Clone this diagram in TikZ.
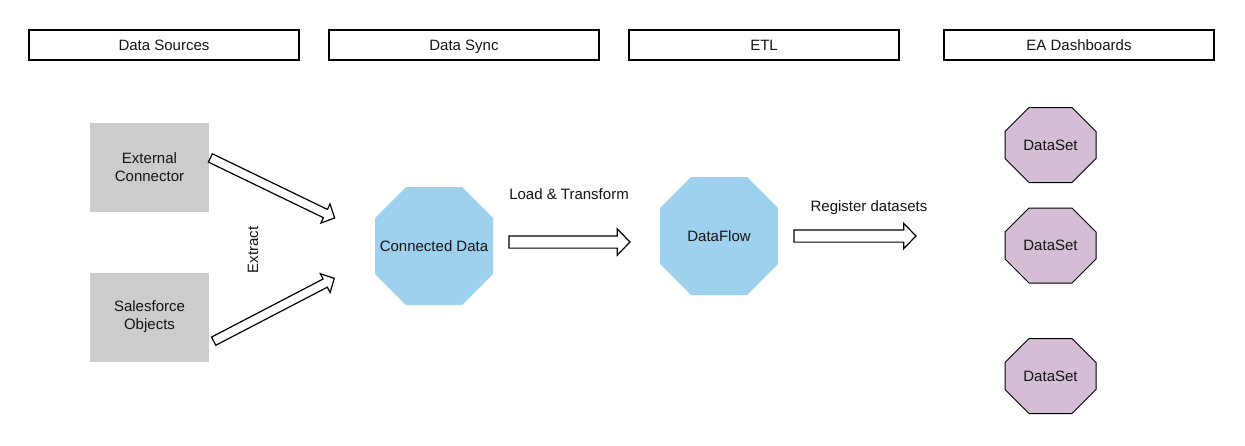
\documentclass[tikz,border=0pt]{standalone}
\usepackage{fontspec}
\setmainfont{Liberation Sans}
\usetikzlibrary{shapes.arrows}
\definecolor{hdrline}{RGB}{0,0,0}
\definecolor{grayfill}{RGB}{204,204,204}
\definecolor{bluefill}{RGB}{158,209,238}
\definecolor{lilac}{RGB}{213,190,213}
\definecolor{txt}{RGB}{20,20,20}
\newcommand{\octo}[8]{%
  \path[#7] ({#2-#4+#6},{#3-#5}) -- ({#2+#4-#6},{#3-#5}) -- ({#2+#4},{#3-#5+#6})
    -- ({#2+#4},{#3+#5-#6}) -- ({#2+#4-#6},{#3+#5}) -- ({#2-#4+#6},{#3+#5})
    -- ({#2-#4},{#3+#5-#6}) -- ({#2-#4},{#3-#5+#6}) -- cycle;
  \node[lbl, minimum width={2*#4}, minimum height={2*#5}, inner sep=0pt] (#1) at (#2,#3) {#8};
}
\begin{document}
\begin{tikzpicture}[x=1pt,y=-1pt,
  every node/.style={font=\fontsize{15}{18}\selectfont, text=txt},
  lbl/.style={text height=12pt, text depth=2pt},
  header/.style={lbl, draw=hdrline, line width=1.3pt, minimum width=270pt, minimum height=30pt, inner sep=0pt},
  srcbox/.style={fill=grayfill, minimum width=119pt, minimum height=89pt, inner sep=0pt, align=center},
  blueoct/.style={fill=bluefill},
  lilacoct/.style={fill=lilac, draw=black, line width=1pt},
  bigarrow/.style={single arrow, draw=black, fill=white, line width=1.2pt, inner xsep=0pt, inner ysep=5.5pt,
     single arrow head extend=7pt, single arrow tip angle=92},
  slimarrow/.style={single arrow, draw=black, fill=white, line width=1.2pt, inner xsep=0pt, inner ysep=4pt,
     single arrow head extend=6pt, single arrow tip angle=92},
]
\path[use as bounding box, fill=white] (0,0) rectangle (1245,445);

% headers
\node[header] (h1) at (164,45) {Data Sources};
\node[header] (h2) at (464,45) {Data Sync};
\node[header] (h3) at (764,45) {ETL};
\node[header] (h4) at (1079,45) {EA Dashboards};

% sources
\node[srcbox] (ext) at (149.5,167) {External\\Connector};
\node[srcbox] (sfo) at (149.5,317) {Salesforce\\Objects};

% octagons
\octo{cd}{434}{246}{59}{59}{31}{blueoct}{Connected Data}
\octo{df}{719}{236}{59}{59}{31}{blueoct}{DataFlow}
\octo{ds1}{1050.5}{145}{45.5}{37.5}{24}{lilacoct}{DataSet}
\octo{ds2}{1050.5}{245.5}{45.5}{37.5}{24}{lilacoct}{DataSet}
\octo{ds3}{1050.5}{376}{45.5}{37.5}{24}{lilacoct}{DataSet}

% block arrows
\node[slimarrow, minimum height=138pt, rotate=-25.8] (a1) at (270.5,187) {};
\node[slimarrow, minimum height=136pt, rotate=27.5] (a2) at (272,310.8) {};
\node[bigarrow, minimum height=121pt] (a3) at (566.5,242) {};
\node[bigarrow, minimum height=122pt, single arrow head extend=6.5pt] (a4) at (852,236) {};

% labels
\node[lbl, rotate=90] (lex) at (253,250) {Extract};
\node[lbl] (llt) at (569,194) {Load \& Transform};
\node[lbl] (lrd) at (869,206) {Register datasets};
\end{tikzpicture}
\end{document}
